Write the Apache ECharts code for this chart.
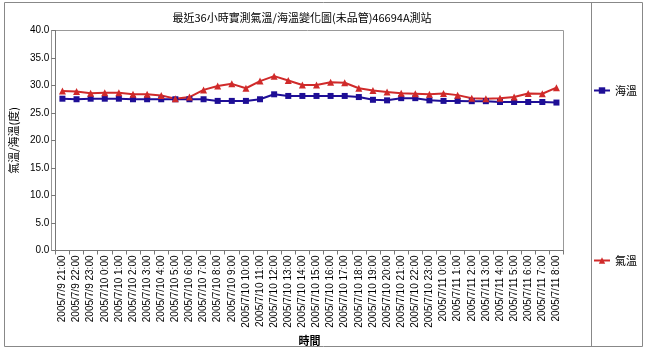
<!DOCTYPE html>
<html>
<head>
<meta charset="utf-8">
<script src="https://cdn.jsdelivr.net/npm/echarts@6/dist/echarts.min.js"></script>
<style>
html,body{margin:0;padding:0;background:#fff;}
#c{width:645px;height:352px;}
</style>
</head>
<body>
<div id="c"></div>
<script>
var categories = [
  "2005/7/9 21:00","2005/7/9 22:00","2005/7/9 23:00",
  "2005/7/10 0:00","2005/7/10 1:00","2005/7/10 2:00","2005/7/10 3:00","2005/7/10 4:00","2005/7/10 5:00",
  "2005/7/10 6:00","2005/7/10 7:00","2005/7/10 8:00","2005/7/10 9:00","2005/7/10 10:00","2005/7/10 11:00",
  "2005/7/10 12:00","2005/7/10 13:00","2005/7/10 14:00","2005/7/10 15:00","2005/7/10 16:00","2005/7/10 17:00",
  "2005/7/10 18:00","2005/7/10 19:00","2005/7/10 20:00","2005/7/10 21:00","2005/7/10 22:00","2005/7/10 23:00",
  "2005/7/11 0:00","2005/7/11 1:00","2005/7/11 2:00","2005/7/11 3:00","2005/7/11 4:00","2005/7/11 5:00",
  "2005/7/11 6:00","2005/7/11 7:00","2005/7/11 8:00"
];
var seaTemp = [
  27.6,27.5,27.6,27.6,27.6,27.5,27.5,27.5,27.5,27.5,27.5,27.2,27.2,27.2,27.5,28.4,28.1,28.1,
  28.1,28.1,28.1,27.9,27.4,27.3,27.7,27.7,27.3,27.2,27.2,27.15,27.15,27.0,27.0,27.0,27.0,26.9
];
var airTemp = [
  29.0,28.9,28.6,28.7,28.7,28.4,28.4,28.2,27.6,27.9,29.2,29.9,30.3,29.5,30.8,31.7,30.9,30.1,
  30.1,30.6,30.5,29.5,29.1,28.8,28.6,28.5,28.4,28.55,28.25,27.7,27.6,27.7,27.9,28.55,28.5,29.6
];
var seriesNames = ["海溫", "氣溫"];
var titleText = "最近36小時實測氣溫/海溫變化圖(未品管)46694A測站";
var yAxisName = "氣溫/海溫(度)";
var xAxisName = "時間";

var chart = echarts.init(document.getElementById('c'), null, {renderer: 'canvas'});
var font = '"Liberation Sans", Arial, "Noto Sans CJK TC", sans-serif';
var cjk = '"Noto Sans CJK TC", "Liberation Sans", sans-serif';
chart.setOption({
  backgroundColor: '#fff',
  animation: false,
  title: {
    text: titleText,
    left: 297, top: 7, textAlign: 'center',
    textStyle: {fontSize: 11, fontWeight: 'normal', color: '#000', fontFamily: cjk}
  },
  graphic: [
    {type: 'rect', shape: {x: 4.5, y: 2.5, width: 638, height: 344}, style: {fill: null, stroke: '#888', lineWidth: 1}, silent: true},
    {type: 'line', shape: {x1: 591.5, y1: 2.5, x2: 591.5, y2: 346.5}, style: {stroke: '#888', lineWidth: 1}, silent: true},
    {type: 'rect', shape: {x: 51.5, y: 30.5, width: 512, height: 220}, style: {fill: null, stroke: '#999', lineWidth: 1}, silent: true, z: -1}
  ],
  legend: {
    orient: 'vertical',
    left: 593, top: 85, width: 50,
    padding: 0,
    itemGap: 159,
    itemWidth: 16, itemHeight: 8,
    textStyle: {fontSize: 11, color: '#000', fontFamily: cjk, width: 30, overflow: 'none'},
    data: seriesNames
  },
  grid: {left: 51.5, right: 81.5, top: 30.5, bottom: 101.5, containLabel: false},
  xAxis: {
    type: 'category',
    data: categories,
    boundaryGap: true,
    name: xAxisName,
    nameLocation: 'middle',
    nameGap: 82,
    nameTextStyle: {fontSize: 11, color: '#000', fontFamily: cjk, fontWeight: 'bold'},
    axisLine: {lineStyle: {color: '#777'}},
    axisTick: {show: true, length: 4, lineStyle: {color: '#777'}},
    axisLabel: {rotate: 90, interval: 0, fontSize: 10, color: '#000', fontFamily: font, margin: 5},
    splitLine: {show: false}
  },
  yAxis: {
    type: 'value',
    min: 0, max: 40, interval: 5,
    name: yAxisName,
    nameLocation: 'middle',
    nameGap: 33,
    nameRotate: 90,
    nameTextStyle: {fontSize: 11, color: '#000', fontFamily: cjk},
    axisLine: {show: true, lineStyle: {color: '#777'}},
    axisTick: {show: true, length: 4, lineStyle: {color: '#777'}},
    axisLabel: {fontSize: 10, color: '#000', fontFamily: font, margin: 6,
      formatter: function (v) { return v.toFixed(1); }},
    splitLine: {show: false}
  },
  series: [
    {
      name: seriesNames[0], type: 'line', data: seaTemp,
      symbol: 'rect', symbolSize: 6,
      lineStyle: {color: '#1E0E96', width: 2},
      itemStyle: {color: '#1E0E96'}
    },
    {
      name: seriesNames[1], type: 'line', data: airTemp,
      symbol: 'triangle', symbolSize: 7,
      lineStyle: {color: '#D02A2A', width: 2},
      itemStyle: {color: '#D02A2A'}
    }
  ]
});
</script>
</body>
</html>
